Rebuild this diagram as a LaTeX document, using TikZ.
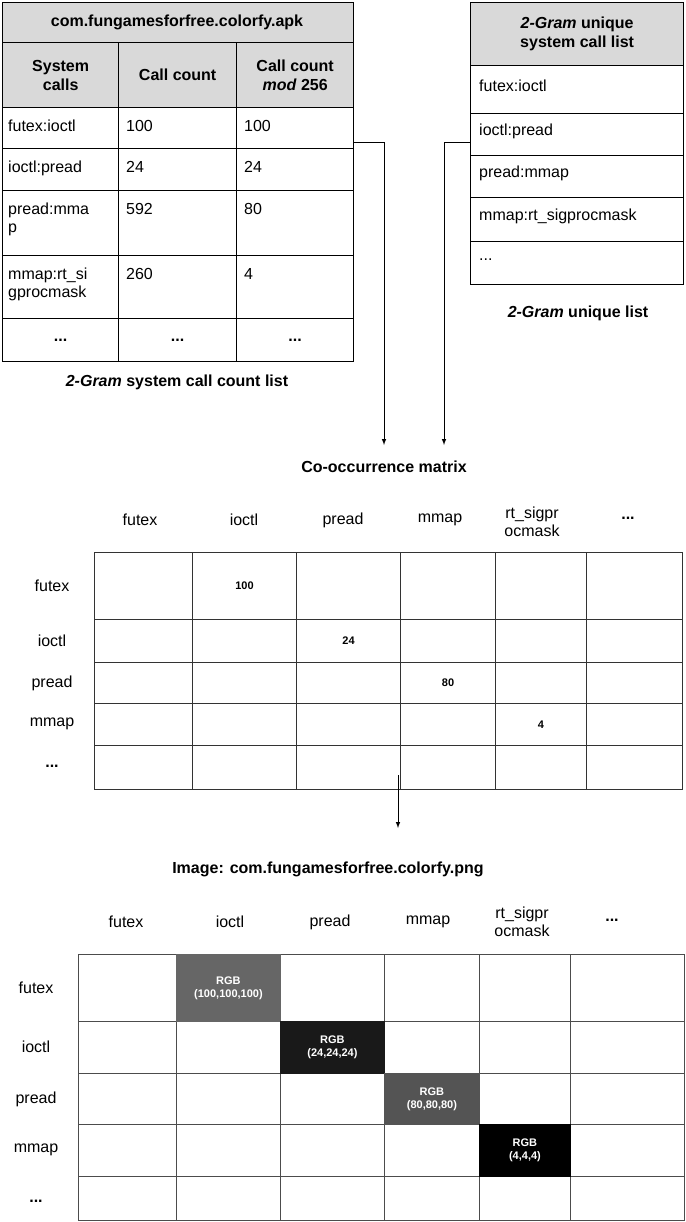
\documentclass[tikz,border=0pt]{standalone}
\usepackage{fontspec}
\setmainfont{Liberation Sans}
\begin{document}
\begin{tikzpicture}[x=1pt,y=-1pt,
  cell/.style={draw,line width=1.3pt,anchor=north west,inner sep=0pt},
  gcell/.style={draw=black!70,line width=0.9pt,anchor=north west,inner sep=0pt},
  txt/.style={font=\fontsize{16}{18}\selectfont,inner sep=0pt},
  btxt/.style={font=\bfseries\fontsize{16}{19}\selectfont,inner sep=0pt,align=center},
  small/.style={font=\bfseries\fontsize{11}{13}\selectfont,inner sep=0pt,align=center},
  arr/.style={line width=1pt,-latex}]
\useasboundingbox (0,0) rectangle (685,1222);
\def\dd{...}
% left table
\newcommand\tc[6]{\node[cell,fill=#6,minimum width=#3-#1,minimum height=#4-#2] (#5) at (#1,#2) {};}
\tc{2}{2}{353}{42}{lt}{black!15}
\node[btxt] at (177,22) {com.fungamesforfree.colorfy.apk};
\tc{2}{42}{118}{107}{h1}{black!15}\tc{118}{42}{236}{107}{h2}{black!15}\tc{236}{42}{353}{107}{h3}{black!15}
\node[btxt] at (h1) {System\\calls};
\node[btxt] at (h2) {Call count};
\node[btxt] at (h3) {Call count\\\textit{mod} 256};
\foreach \ya/\yb/\n/\a/\b/\c in {107/148/r1/futex:ioctl/100/100,148/190/r2/ioctl:pread/24/24,190/255/r3/{pread:mma\\p}/592/80,255/318/r4/{mmap:rt\_si\\gprocmask}/260/4}{
  \tc{2}{\ya}{118}{\yb}{\n a}{white}\tc{118}{\ya}{236}{\yb}{\n b}{white}\tc{236}{\ya}{353}{\yb}{\n c}{white}
  \node[txt,anchor=north west,align=left] at (8,\ya+13) {\a};
  \node[txt,anchor=north west] at (126,\ya+13) {\b};
  \node[txt,anchor=north west] at (244,\ya+13) {\c};
}
\tc{2}{318}{118}{361}{r5a}{white}\tc{118}{318}{236}{361}{r5b}{white}\tc{236}{318}{353}{361}{r5c}{white}
\node[btxt] at (r5a) {\dd};\node[btxt] at (r5b) {\dd};\node[btxt] at (r5c) {\dd};
\node[btxt] at (177,382) {\textit{2-Gram} system call count list};
% right table
\tc{470}{2}{683}{65}{rt}{black!15}
\node[btxt] at (rt) {\textit{2-Gram} unique\\system call list};
\foreach \ya/\yb/\n/\a in {65/113/u1/futex:ioctl,113/155/u2/ioctl:pread,155/197/u3/pread:mmap,197/241/u4/mmap:rt\_sigprocmask,241/284/u5/\dd}{
  \tc{470}{\ya}{683}{\yb}{\n}{white}
  \node[txt,anchor=west] at (479,{(\ya+\yb)/2-3}) {\a};
}
\node[btxt] at (578,313) {\textit{2-Gram} unique list};
% arrows
\coordinate (m1a) at (384,445);
\coordinate (m1b) at (444,445);
\draw[arr] (r1c.east |- 0,143) -| (m1a);
\draw[arr] (u2.west |- 0,143) -| (m1b);
\node[btxt] at (384,467) {Co-occurrence matrix};
% matrix 1
\def\xs{{94,192,296,400,495,586,682}}
\def\ys{{552,619,662,703,745,789}}
\foreach \i in {0,1,2,3,4,5}{\foreach \j in {0,1,2,3,4}{
  \pgfmathsetmacro\xa{\xs[\i]}\pgfmathsetmacro\xb{\xs[\i+1]}
  \pgfmathsetmacro\ya{\ys[\j]}\pgfmathsetmacro\yb{\ys[\j+1]}
  \node[gcell,draw=black!80,line width=1pt,minimum width=\xb-\xa,minimum height=\yb-\ya] (a\i\j) at (\xa,\ya) {};
}}
\foreach \x/\t in {140/futex,244/ioctl,343/pread,440/mmap}{\node[txt] at (\x,520) {\t};}
\node[btxt] at (628,518) {\dd};
\node[txt,align=center] at (532,522) {rt\_sigpr\\ocmask};
\foreach \y/\t in {586/futex,641/ioctl,683/pread,724/mmap}{\node[txt] at (52,\y) {\t};}
\node[btxt] at (52,766) {\dd};
\node[small] at (a10) {100};
\node[small] at (a21) {24};
\node[small] at (a32) {80};
\node[small] at (a43) {4};
\coordinate (m2) at (398,828);
\draw[arr] (398,775) -- (m2);
\node[btxt] at (328,869) {Image: com.fungamesforfree.colorfy.png};
% matrix 2
\def\xs{{78,176,280,384,479,570,684}}
\def\ys{{954,1021,1073,1124,1176,1220}}
\foreach \i in {0,1,2,3,4,5}{\foreach \j in {0,1,2,3,4}{
  \pgfmathsetmacro\xa{\xs[\i]}\pgfmathsetmacro\xb{\xs[\i+1]}
  \pgfmathsetmacro\ya{\ys[\j]}\pgfmathsetmacro\yb{\ys[\j+1]}
  \node[gcell,minimum width=\xb-\xa,minimum height=\yb-\ya] (b\i\j) at (\xa,\ya) {};
}}
\fill[black!60] (b10.north west) rectangle (b10.south east);
\fill[black!90] (b21.north west) rectangle (b21.south east);
\fill[black!67] (b32.north west) rectangle (b32.south east);
\fill[black] (b43.north west) rectangle (b43.south east);
\node[small,white] at (b10) {RGB\\(100,100,100)};
\node[small,white] at (b21) {RGB\\(24,24,24)};
\node[small,white] at (b32) {RGB\\(80,80,80)};
\node[small,white] at (b43) {RGB\\(4,4,4)};
\foreach \x/\t in {126/futex,230/ioctl,330/pread,428/mmap}{\node[txt] at (\x,922) {\t};}
\node[btxt] at (612,920) {\dd};
\node[txt,align=center] at (522,922) {rt\_sigpr\\ocmask};
\foreach \y/\t in {988/futex,1047/ioctl,1099/pread,1150/mmap}{\node[txt] at (36,\y) {\t};}
\node[btxt] at (36,1201) {\dd};
\end{tikzpicture}
\end{document}
